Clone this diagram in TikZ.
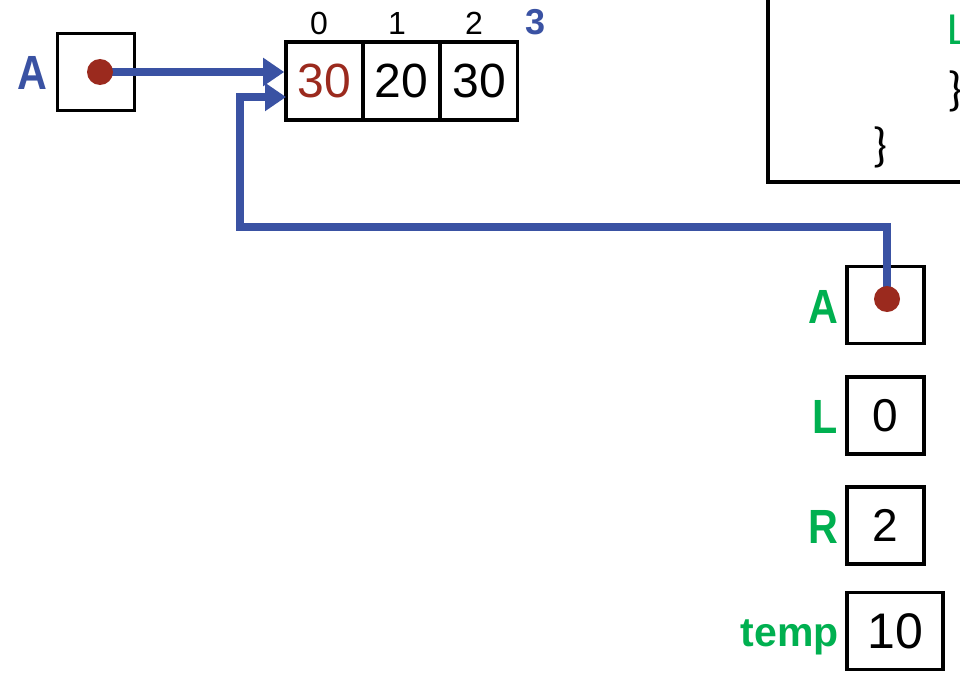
\documentclass[tikz,border=0pt]{standalone}
\usepackage{fontspec}
\usepackage{graphicx}
\setmainfont{Liberation Sans}
\newfontfamily\codefont{Carlito}
\usetikzlibrary{arrows.meta}
\definecolor{ptrblue}{RGB}{58,82,163}
\definecolor{dotred}{RGB}{155,42,30}
\definecolor{vargreen}{RGB}{0,176,80}
\newcommand{\narrow}[2][0.86]{\scalebox{#1}[1]{#2}}
\begin{document}
\begin{tikzpicture}[x=1pt,y=-1pt,
  cell/.style={draw=black, line width=3.6pt, minimum width=77pt, minimum height=78pt,
    inner sep=0pt, font=\fontsize{48}{48}\selectfont},
  varbox/.style={draw=black, line width=3.6pt, minimum width=77pt, minimum height=77pt,
    inner sep=0pt, font=\fontsize{46}{46}\selectfont},
  varname/.style={font=\fontsize{48}{48}\selectfont\bfseries, inner sep=0pt},
  idx/.style={font=\fontsize{32}{32}\selectfont, inner sep=0pt},
  ptr/.style={draw=ptrblue, line width=7.6pt},
  ptrtip/.style={-{Triangle[length=21pt,width=27pt]}},
  refdot/.style={circle, fill=dotred, minimum size=26pt, inner sep=0pt},
  brace/.style={font=\codefont\fontsize{48}{48}\selectfont, inner sep=0pt}]
\useasboundingbox (0,0) rectangle (960,677);
\clip (0,0) rectangle (960,677);
\fill[white] (0,0) rectangle (960,677);

% caller's frame: reference A
\node[varbox] (boxA) at (96,72) {};
\node[varname, text=ptrblue, anchor=east] (labA) at (48,73) {\narrow{A}};

% the array
\node[cell, text=dotred] (c0) at (324.5,81) {30};
\node[cell] (c1) at (401.5,81) {20};
\node[cell] (c2) at (479,81) {30};
\node[idx] (i0) at (319,23) {0};
\node[idx] (i1) at (397,23) {1};
\node[idx] (i2) at (474,23) {2};
\node[idx, font=\fontsize{36}{36}\selectfont\bfseries, text=ptrblue] (i3) at (536,22) {3};

% code frame (partly off the page)
\draw[line width=3.6pt] (768,-10) -- (768,182) -- (975,182);
\node[font=\codefont\fontsize{46}{46}\selectfont, text=vargreen, anchor=west, inner sep=0pt] (codeL) at (947,30) {L};
\node[brace, anchor=west] (br1) at (947,91) {\}};
\node[brace] (br2) at (880,147) {\}};

% callee's frame
\node[varbox] (boxA2) at (885.5,305) {};
\node[varname, text=vargreen, anchor=east] (labA2) at (838,307) {\narrow{A}};
\node[varbox] (boxL) at (885.5,415.5) {0};
\node[varname, text=vargreen, anchor=east] (labL) at (838,417) {\narrow{L}};
\node[varbox] (boxR) at (885.5,525.5) {2};
\node[varname, text=vargreen, anchor=east] (labR) at (838,527) {\narrow{R}};
\node[varbox, minimum width=96pt, font=\fontsize{50}{50}\selectfont] (boxT) at (895,631) {10};
\node[varname, text=vargreen, anchor=base east, font=\fontsize{41}{41}\selectfont\bfseries] (labT) at (839,646) {temp};

% pointer endpoints
\coordinate (dot1) at (100,72);
\coordinate (dot2) at (887,299);
\coordinate (turn) at (240,227);
\coordinate (in2) at (286,97);

% pointers
\draw[ptr, ptrtip] (dot1) -- (dot1 -| c0.west);
\draw[ptr, ptrtip] (dot2) -- (dot2 |- turn) -- (turn) -- (turn |- in2) -- (in2);
\node[refdot] (d1) at (dot1) {};
\node[refdot] (d2) at (dot2) {};
\end{tikzpicture}
\end{document}
